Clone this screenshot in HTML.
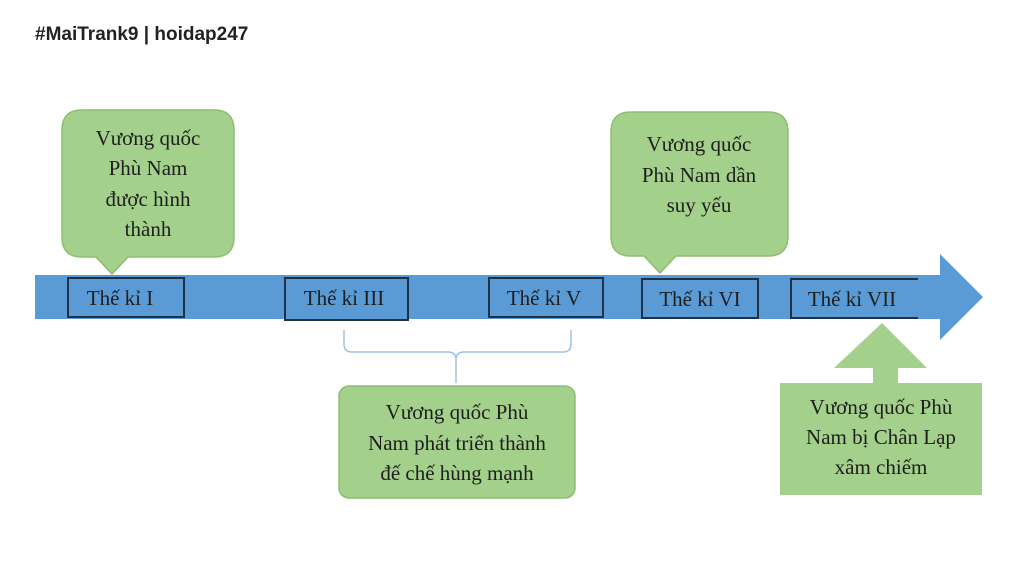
<!DOCTYPE html>
<html><head><meta charset="utf-8"><style>
body{margin:0;background:#fff;width:1024px;height:573px;overflow:hidden}
svg{display:block}
.t{font-family:"Liberation Serif",serif;font-size:21px;fill:#1e1e1e;text-anchor:middle}
</style></head><body>
<svg width="1024" height="573" viewBox="0 0 1024 573">
<text x="35" y="40" font-family="Liberation Sans,sans-serif" font-weight="bold" font-size="19" fill="#222">#MaiTrank9 | hoidap247</text>
<!-- main arrow -->
<polygon points="35,275 940,275 940,254 983,297 940,340 940,319 35,319" fill="#5b9bd5"/>
<g fill="none" stroke="#1f3147" stroke-width="2">
<rect x="68" y="278" width="116" height="39"/>
<rect x="285" y="278" width="123" height="42"/>
<rect x="489" y="278" width="114" height="39"/>
<rect x="642" y="279" width="116" height="39"/>
<polyline points="918,279 791,279 791,318 918,318"/>
</g>
<g class="t">
<text x="120" y="305">Thế kỉ I</text>
<text x="344" y="305">Thế kỉ III</text>
<text x="544" y="305">Thế kỉ V</text>
<text x="700" y="306">Thế kỉ VI</text>
<text x="852" y="306">Thế kỉ VII</text>
</g>
<!-- callout 1 -->
<path d="M82,110 H214 Q234,110 234,130 V237 Q234,257 214,257 H128 L112,274 L96,257 H82 Q62,257 62,237 V130 Q62,110 82,110 Z" fill="#a3d08a" stroke="#8dbd74" stroke-width="1.5"/>
<g class="t"><text x="148" y="145">Vương quốc</text><text x="148" y="175">Phù Nam</text><text x="148" y="206">được hình</text><text x="148" y="236">thành</text></g>
<!-- callout 2 -->
<path d="M631,112 H768 Q788,112 788,132 V236 Q788,256 768,256 H676 L660,273 L644,256 H631 Q611,256 611,236 V132 Q611,112 631,112 Z" fill="#a3d08a" stroke="#8dbd74" stroke-width="1.5"/>
<g class="t"><text x="699" y="151">Vương quốc</text><text x="699" y="182">Phù Nam dần</text><text x="699" y="212">suy yếu</text></g>
<!-- brace -->
<path d="M344,330 V344 Q344,352 352,352 H448 Q456,352 456,360 V383 M456,360 Q456,352 464,352 H563 Q571,352 571,344 V330" fill="none" stroke="#9dc3e6" stroke-width="1.5"/>
<rect x="339" y="386" width="236" height="112" rx="10" fill="#a3d08a" stroke="#8dbd74" stroke-width="1.5"/>
<g class="t"><text x="457" y="419">Vương quốc Phù</text><text x="457" y="450">Nam phát triển thành</text><text x="457" y="480">đế chế hùng mạnh</text></g>
<!-- box 4 with up arrow -->
<polygon points="882,323 927,368 898,368 898,384 873,384 873,368 834,368" fill="#a3d08a"/>
<rect x="780" y="383" width="202" height="112" fill="#a3d08a"/>
<g class="t"><text x="881" y="414">Vương quốc Phù</text><text x="881" y="444">Nam bị Chân Lạp</text><text x="881" y="474">xâm chiếm</text></g>
</svg>
</body></html>
